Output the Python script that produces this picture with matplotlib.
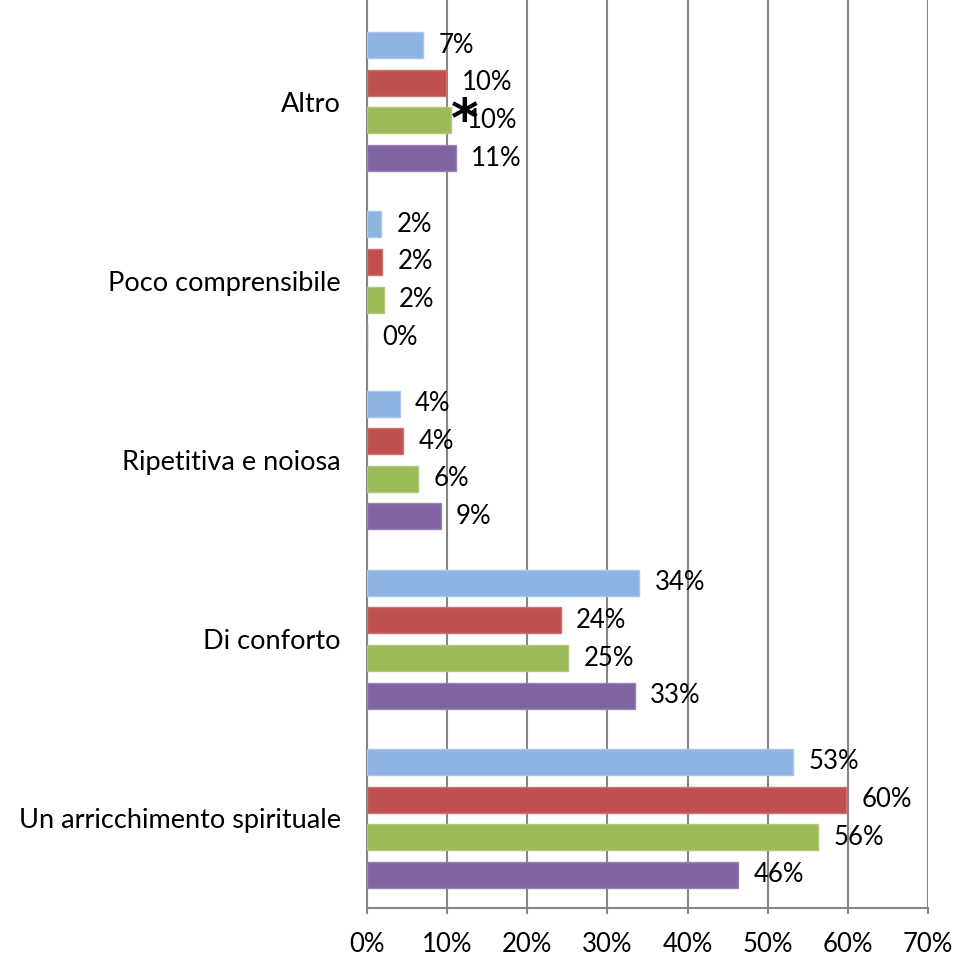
import numpy as np
import matplotlib
matplotlib.use("Agg")
import matplotlib.pyplot as plt

plt.rcParams['font.family'] = ['Lato', 'DejaVu Sans']

categories = ["Altro", "Poco comprensibile", "Ripetitiva e noiosa",
              "Di conforto", "Un arricchimento spirituale"]

# values in percent, one list per series (top bar to bottom bar in each group)
serie_blu = [7.0, 1.75, 4.1, 34.0, 53.2]
serie_rossa = [9.9, 1.9, 4.5, 24.2, 59.8]
serie_verde = [10.5, 2.1, 6.4, 25.1, 56.3]
serie_viola = [11.1, 0.0, 9.2, 33.4, 46.3]

series = [serie_blu, serie_rossa, serie_verde, serie_viola]
colors = ["#8EB4E3", "#C0504D", "#9BBB59", "#8064A2"]
edges = ["#A9C6EA", "#CD7371", "#AFC97A", "#9984B6"]

xticks = [0, 10, 20, 30, 40, 50, 60, 70]

fig = plt.figure(figsize=(9.57, 9.55), dpi=100)
ax = fig.add_axes([367/957, 47/955, 561/957, 908/955])

y = np.arange(len(categories))
h = 0.145
step = 0.21
for i, (vals, c, e) in enumerate(zip(series, colors, edges)):
    pos = y + (i - 1.5) * step
    ax.barh(pos, vals, height=h, color=c, edgecolor=e, linewidth=1, zorder=3)
    for p, v in zip(pos, vals):
        ax.annotate(f"{round(v):d}%", xy=(v, p), xytext=(11, 0),
                    textcoords="offset points", va="center", ha="left",
                    fontsize=18.5, color="black", zorder=4)

# asterisk next to the green "Altro" bar
ax.annotate("*", xy=(serie_verde[0], 0 + 0.5 * step), xytext=(0, -1),
            textcoords="offset points", va="center", ha="left",
            fontsize=38, fontweight="bold", color="black", zorder=5,
            family="DejaVu Sans")

ax.set_xlim(0, 70)
ax.set_ylim(4.5, -0.567)
ax.set_xticks(xticks)
ax.set_xticklabels([f"{t}%" for t in xticks])
ax.set_yticks(y)
ax.set_yticklabels(categories)

ax.grid(axis="x", color="#868686", linewidth=1.5, zorder=0)
for s in ["top", "right"]:
    ax.spines[s].set_visible(False)
for s in ["left", "bottom"]:
    ax.spines[s].set_color("#868686")
    ax.spines[s].set_linewidth(1.5)

ax.tick_params(axis="x", length=4, width=1.5, color="#868686", pad=13, labelsize=18.5)
ax.tick_params(axis="y", length=0, pad=19, labelsize=19.5)

fig.savefig("out.png", dpi=100, facecolor="white")
